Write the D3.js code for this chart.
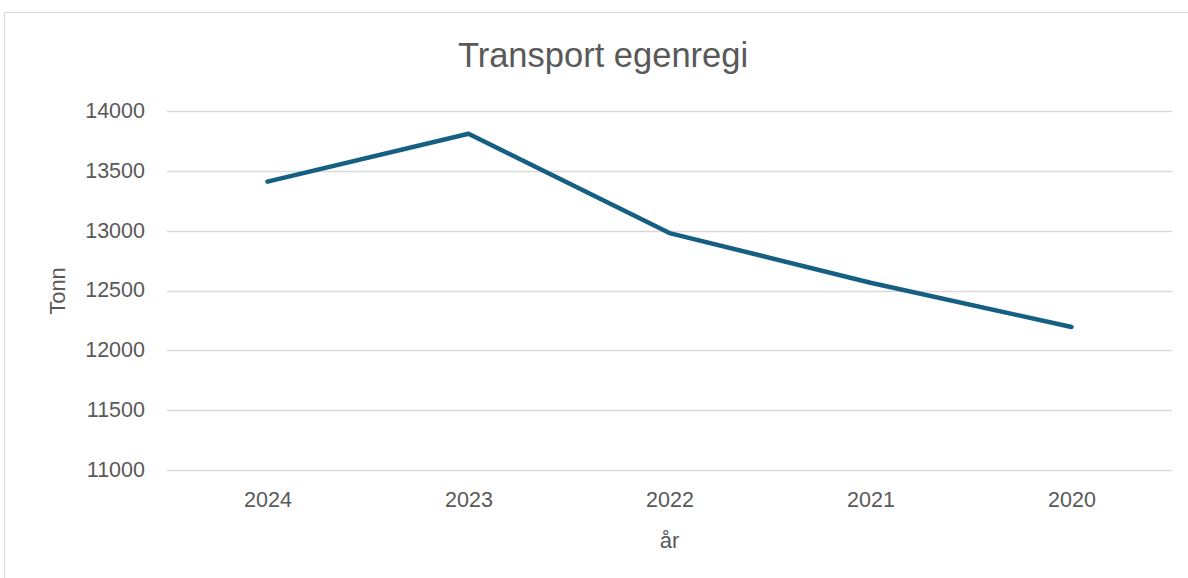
<!DOCTYPE html>
<html>
<head>
<meta charset="utf-8">
<script src="https://cdn.jsdelivr.net/npm/d3@7"></script>
<style>
  html, body { margin: 0; padding: 0; background: #ffffff; }
  svg { display: block; font-family: "Liberation Sans", Arial, sans-serif; }
</style>
</head>
<body>
<svg id="chart" width="1188" height="578"></svg>
<script>
const title = "Transport egenregi";
const xTitle = "år";
const yTitle = "Tonn";
const categories = ["2024", "2023", "2022", "2021", "2020"];
const values = [13410, 13810, 12980, 12565, 12195];
const yTicks = [11000, 11500, 12000, 12500, 13000, 13500, 14000];

const svg = d3.select("#chart");
const W = 1188, H = 578;
const plot = { left: 167, right: 1172, top: 111, bottom: 470 };

svg.append("rect").attr("x", 0).attr("y", 0).attr("width", W).attr("height", H).attr("fill", "#ffffff");
svg.append("rect").attr("x", 4.5).attr("y", 12.5).attr("width", W + 10).attr("height", H + 10)
  .attr("fill", "none").attr("stroke", "#d9d9d9").attr("stroke-width", 1);

const x = d3.scalePoint().domain(categories).range([plot.left, plot.right]).padding(0.5);
const y = d3.scaleLinear().domain([11000, 14000]).range([plot.bottom, plot.top]);

// gridlines
svg.append("g").selectAll("line").data(yTicks).join("line")
  .attr("x1", plot.left).attr("x2", plot.right)
  .attr("y1", d => Math.round(y(d)) + 0.5).attr("y2", d => Math.round(y(d)) + 0.5)
  .attr("stroke", "#d9d9d9").attr("stroke-width", 1.3);

// y axis labels
const yAxis = d3.axisLeft(y).tickValues(yTicks).tickSize(0).tickPadding(0).tickFormat(d3.format("d"));
const gy = svg.append("g").attr("transform", `translate(${plot.left - 22},0)`).call(yAxis);
gy.select(".domain").remove();
gy.selectAll("text").attr("fill", "#595959").attr("font-size", 21.5).attr("dy", "0.3em")
  .attr("font-family", "Liberation Sans, Arial, sans-serif");

// x axis labels
const xAxis = d3.axisBottom(x).tickSize(0).tickPadding(0);
const gx = svg.append("g").attr("transform", `translate(0,${plot.bottom})`).call(xAxis);
gx.select(".domain").remove();
gx.selectAll("text").attr("fill", "#595959").attr("font-size", 21.5).attr("dy", null).attr("y", 37)
  .attr("font-family", "Liberation Sans, Arial, sans-serif");

// line
const line = d3.line().x((d, i) => x(categories[i])).y(d => y(d));
svg.append("path").datum(values).attr("d", line)
  .attr("fill", "none").attr("stroke", "#156082").attr("stroke-width", 4.5)
  .attr("stroke-linecap", "round").attr("stroke-linejoin", "round");

// title
svg.append("text").attr("x", 603).attr("y", 67).attr("text-anchor", "middle")
  .attr("font-size", 34.5).attr("fill", "#595959").text(title);

// axis titles
svg.append("text").attr("x", (plot.left + plot.right) / 2).attr("y", 548).attr("text-anchor", "middle")
  .attr("font-size", 22).attr("fill", "#595959").text(xTitle);
svg.append("text").attr("transform", "translate(65,291) rotate(-90)").attr("text-anchor", "middle")
  .attr("font-size", 22).attr("fill", "#595959").text(yTitle);
</script>
</body>
</html>
